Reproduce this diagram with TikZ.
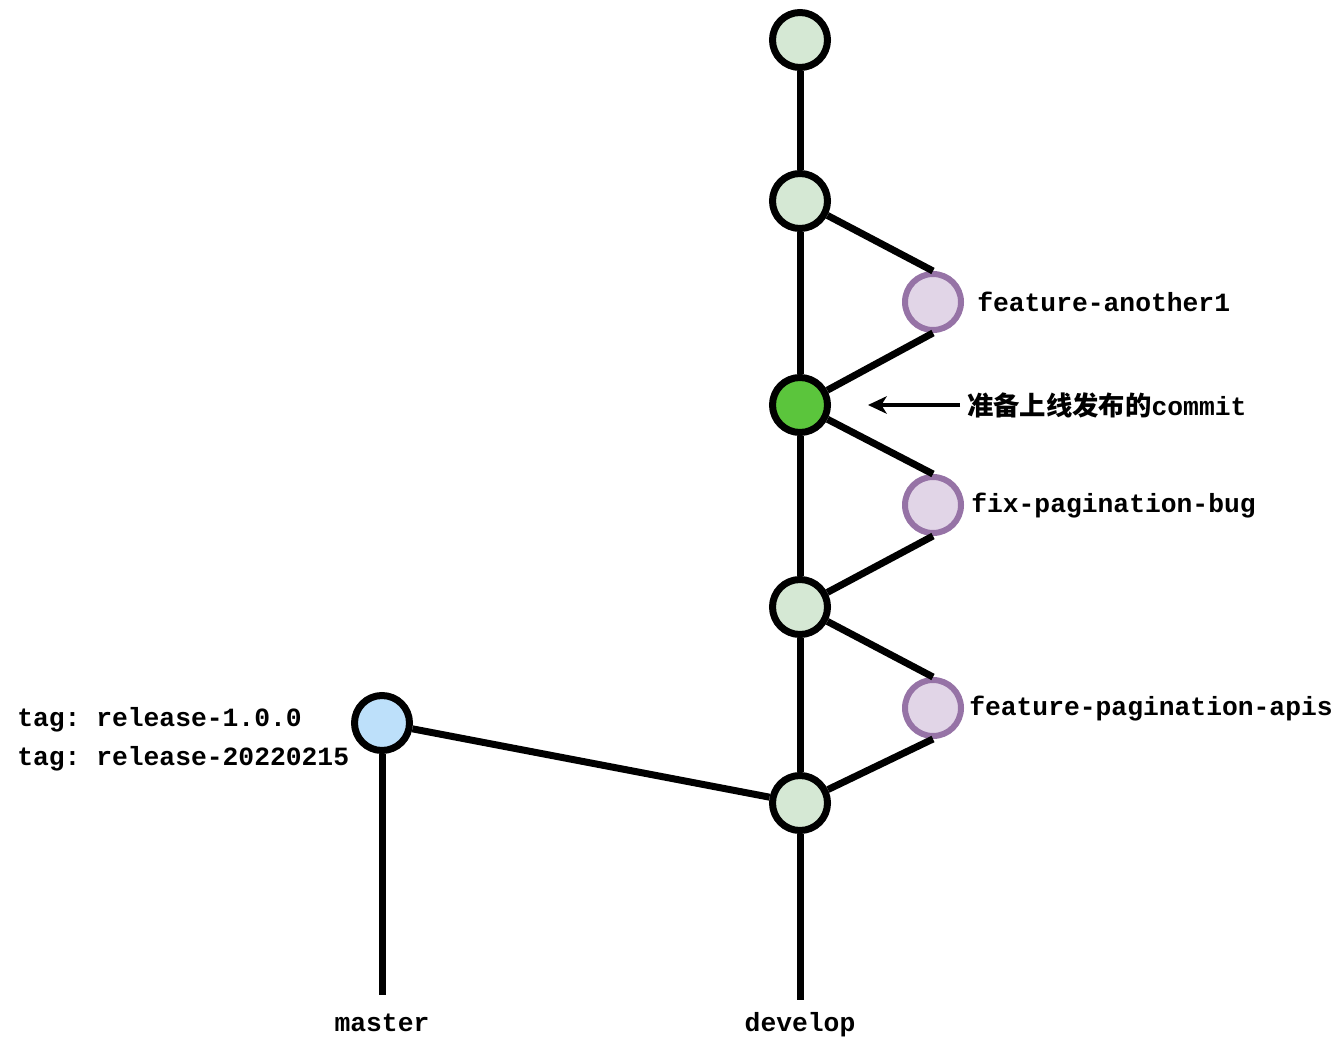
\documentclass[tikz,border=0pt]{standalone}
\usepackage{fontspec}
\setmonofont{Liberation Mono}
\newfontfamily\cjk{Noto Sans CJK SC}
\usetikzlibrary{arrows.meta}
\definecolor{cgreen}{HTML}{D5E8D4}
\definecolor{cbright}{HTML}{5BC53C}
\definecolor{cpurpfill}{HTML}{E1D5E7}
\definecolor{cpurpline}{HTML}{9673A6}
\definecolor{cblue}{HTML}{BDE0FA}
\begin{document}
\begin{tikzpicture}[x=0.75pt,y=-0.75pt,
  commit/.style={circle,draw=black,line width=5.25pt,minimum size=41.25pt,inner sep=0pt,fill=cgreen},
  fcommit/.style={circle,draw=cpurpline,line width=4.5pt,minimum size=42pt,inner sep=0pt,fill=cpurpfill},
  branch/.style={line width=5.25pt,draw=black},
  lbl/.style={inner sep=0pt,font=\fontsize{19.75}{24}\selectfont\ttfamily\bfseries}
]
\useasboundingbox (0,0) rectangle (1342,1052);
% develop commits
\node[commit] (d1) at (800,40) {};
\node[commit] (d2) at (800,201) {};
\node[commit,fill=cbright] (d3) at (800,405) {};
\node[commit] (d4) at (800,607) {};
\node[commit] (d5) at (800,803) {};
% feature commits
\node[fcommit] (f1) at (933,302) {};
\node[fcommit] (f2) at (933,505) {};
\node[fcommit] (f3) at (933,708) {};
% master commit
\node[commit,fill=cblue] (m1) at (382,723) {};
\coordinate (mend) at (382,995);
\coordinate (dend) at (800,1000);
% connectors
\draw[branch] (d1) -- (d2);
\draw[branch] (d2) -- (d3);
\draw[branch] (d3) -- (d4);
\draw[branch] (d4) -- (d5);
\draw[branch] (d5) -- (dend);
\draw[branch] (m1) -- (mend);
\draw[branch] (m1) -- (d5);
\draw[branch] (d2) -- (f1.north);
\draw[branch] (f1.south) -- (d3);
\draw[branch] (d3) -- (f2.north);
\draw[branch] (f2.south) -- (d4);
\draw[branch] (d4) -- (f3.north);
\draw[branch] (f3.south) -- (d5);
% labels
\node[lbl,anchor=west] (lf1) at (977,302) {feature-another1};
\node[lbl,anchor=west] (lf2) at (971,506) {fix-pagination-bug};
\node[lbl,anchor=west] (lf3) at (969,709) {feature-pagination-apis};
\node[lbl,anchor=west] (lc) at (967,405) {{\cjk\bfseries 准备上线发布的}commit};
\coordinate (atip) at (868,405);
\draw[line width=2.6pt,-{Stealth[length=14pt,width=13pt,inset=4pt]}] (lc.west) ++(-7,0) coordinate (astart) (astart) -- (atip);
\node[lbl,anchor=west] (t1) at (17,720) {tag: release-1.0.0};
\node[lbl,anchor=west] (t2) at (17,759) {tag: release-20220215};
\node[lbl,anchor=base] (lm) at (382,1031) {master};
\node[lbl,anchor=base] (ld) at (800,1031) {develop};
\end{tikzpicture}
\end{document}
